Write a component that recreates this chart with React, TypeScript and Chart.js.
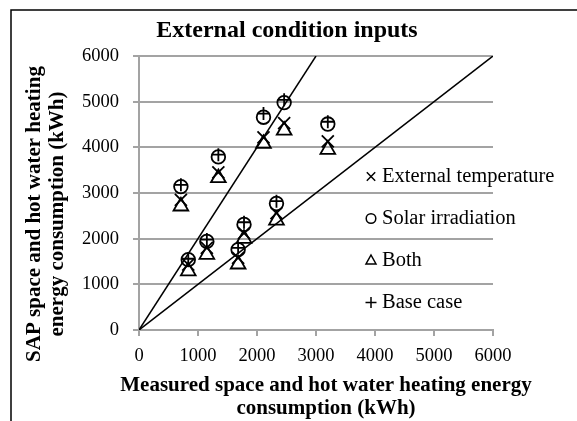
import React, { useEffect, useRef } from "react";
import { Chart, registerables } from "chart.js";

Chart.register(...registerables);

const FONT = "'Liberation Serif', 'Times New Roman', Times, serif";

// ---- data ----
const measured = [710, 835, 1150, 1345, 1680, 1780, 2110, 2330, 2460, 3200];
const externalTemperature = [2850, 1430, 1800, 3450, 1580, 2120, 4220, 2560, 4530, 4130];
const solarIrradiation = [3140, 1540, 1940, 3790, 1760, 2310, 4660, 2770, 4980, 4510];
const both = [2710, 1290, 1650, 3330, 1440, 2000, 4080, 2400, 4370, 3950];
const baseCase = [3180, 1560, 1980, 3840, 1800, 2360, 4740, 2820, 5040, 4560];

const steepLineX = [0, 3000];
const steepLineY = [0, 6000];
const parityLineX = [0, 6000];
const parityLineY = [0, 6000];

const axisMin = 0;
const axisMax = 6000;
const axisStep = 1000;

const chartTitle = "External condition inputs";
const xTitle = ["Measured space and hot water heating energy", "consumption (kWh)"];
const yTitle = ["SAP space and hot water heating", "energy consumption (kWh)"];

const seriesLabels = ["External temperature", "Solar irradiation", "Both", "Base case"];

const toPoints = (xs: number[], ys: number[]) => xs.map((x, i) => ({ x, y: ys[i] }));

const GRID = "#a3a3a3";

function drawMarker(ctx: CanvasRenderingContext2D, style: string, cx: number, cy: number) {
  ctx.beginPath();
  if (style === "crossRot") {
    const d = 4.2;
    ctx.moveTo(cx - d, cy - d);
    ctx.lineTo(cx + d, cy + d);
    ctx.moveTo(cx + d, cy - d);
    ctx.lineTo(cx - d, cy + d);
  } else if (style === "circle") {
    ctx.arc(cx, cy, 4.8, 0, Math.PI * 2);
  } else if (style === "triangle") {
    ctx.moveTo(cx, cy - 5.5);
    ctx.lineTo(cx + 5, cy + 3.5);
    ctx.lineTo(cx - 5, cy + 3.5);
    ctx.closePath();
  } else if (style === "cross") {
    const d = 5.5;
    ctx.moveTo(cx - d, cy);
    ctx.lineTo(cx + d, cy);
    ctx.moveTo(cx, cy - d);
    ctx.lineTo(cx, cy + d);
  }
  ctx.stroke();
}

const decorPlugin = {
  id: "decor",
  afterDraw(chart: any) {
    const ctx: CanvasRenderingContext2D = chart.ctx;
    const area = chart.chartArea;
    ctx.save();

    // outer frame (left + top edges)
    ctx.strokeStyle = "#000";
    ctx.lineWidth = 1.5;
    ctx.beginPath();
    ctx.moveTo(11, chart.height);
    ctx.lineTo(11, 10);
    ctx.lineTo(chart.width, 10);
    ctx.stroke();

    ctx.fillStyle = "#000";
    ctx.textBaseline = "alphabetic";
    ctx.textAlign = "center";

    // chart title
    ctx.font = `bold 24px ${FONT}`;
    ctx.fillText(chartTitle, 287, 37);

    // y axis title (rotated)
    ctx.font = `bold 21px ${FONT}`;
    const yCenter = 214;
    [40, 63].forEach((bx, i) => {
      ctx.save();
      ctx.translate(bx, yCenter);
      ctx.rotate(-Math.PI / 2);
      ctx.fillText(yTitle[i], 0, 0);
      ctx.restore();
    });

    // x axis title
    const xCenter = 326;
    [391, 414].forEach((by, i) => {
      ctx.fillText(xTitle[i], xCenter, by);
    });

    // legend
    ctx.font = `20.5px ${FONT}`;
    ctx.textAlign = "left";
    const items = chart.data.datasets.filter((d: any) => d.inLegend);
    const markerX = area.right - 122;
    const textX = area.right - 111;
    items.forEach((d: any, i: number) => {
      const baseline = 182 + i * 42;
      ctx.strokeStyle = "#000";
      ctx.lineWidth = 1.5;
      drawMarker(ctx, d.pointStyle, markerX, baseline - 5.5);
      ctx.fillStyle = "#000";
      ctx.fillText(d.label, textX, baseline);
    });

    ctx.restore();
  },
};

function makeSeries(label: string, ys: number[], style: string, radius: number) {
  return {
    label,
    data: toPoints(measured, ys),
    pointStyle: style,
    pointRadius: radius,
    pointHoverRadius: radius,
    pointBorderColor: "#000",
    pointBackgroundColor: "rgba(0,0,0,0)",
    pointBorderWidth: 1.8,
    showLine: false,
    inLegend: true,
  };
}

function makeRefLine(xs: number[], ys: number[]) {
  return {
    label: "",
    data: toPoints(xs, ys),
    showLine: true,
    borderColor: "#000",
    borderWidth: 1.5,
    pointRadius: 0,
    pointHoverRadius: 0,
    fill: false,
    inLegend: false,
  };
}

export default function App() {
  const ref = useRef<HTMLCanvasElement>(null);

  useEffect(() => {
    document.body.style.margin = "0";
    const canvas = ref.current;
    if (!canvas) return;
    const tickFont = { family: FONT, size: 18.5 };
    const plain = (v: any) => String(v);
    const chart = new Chart(canvas, {
      type: "scatter",
      data: {
        datasets: [
          makeRefLine(steepLineX, steepLineY),
          makeRefLine(parityLineX, parityLineY),
          makeSeries(seriesLabels[0], externalTemperature, "crossRot", 8.5),
          makeSeries(seriesLabels[1], solarIrradiation, "circle", 6.8),
          makeSeries(seriesLabels[2], both, "triangle", 8.5),
          makeSeries(seriesLabels[3], baseCase, "cross", 6.5),
        ] as any,
      },
      options: {
        animation: false,
        responsive: false,
        devicePixelRatio: 1,
        events: [],
        layout: { padding: { left: 0, right: 84, top: 56, bottom: 0 } },
        plugins: {
          legend: { display: false },
          tooltip: { enabled: false },
          title: { display: false },
        },
        scales: {
          x: {
            type: "linear",
            min: axisMin,
            max: axisMax,
            ticks: { stepSize: axisStep, color: "#000", font: tickFont, padding: 9, maxRotation: 0, callback: plain },
            grid: { drawOnChartArea: false, drawTicks: true, tickLength: 6, color: GRID, lineWidth: 2 },
            border: { color: GRID, width: 2 },
            afterFit: (s: any) => {
              s.height = 91;
            },
          },
          y: {
            type: "linear",
            min: axisMin,
            max: axisMax,
            ticks: { stepSize: axisStep, color: "#000", font: tickFont, padding: 14, callback: plain },
            grid: { drawTicks: true, tickLength: 6, color: GRID, lineWidth: 2 },
            border: { color: GRID, width: 2 },
            afterFit: (s: any) => {
              s.width = 139;
            },
          },
        },
      } as any,
      plugins: [decorPlugin],
    });
    return () => chart.destroy();
  }, []);

  return (
    <div style={{ width: 577, height: 421 }}>
      <canvas ref={ref} width={577} height={421} style={{ display: "block", width: 577, height: 421 }} />
    </div>
  );
}
